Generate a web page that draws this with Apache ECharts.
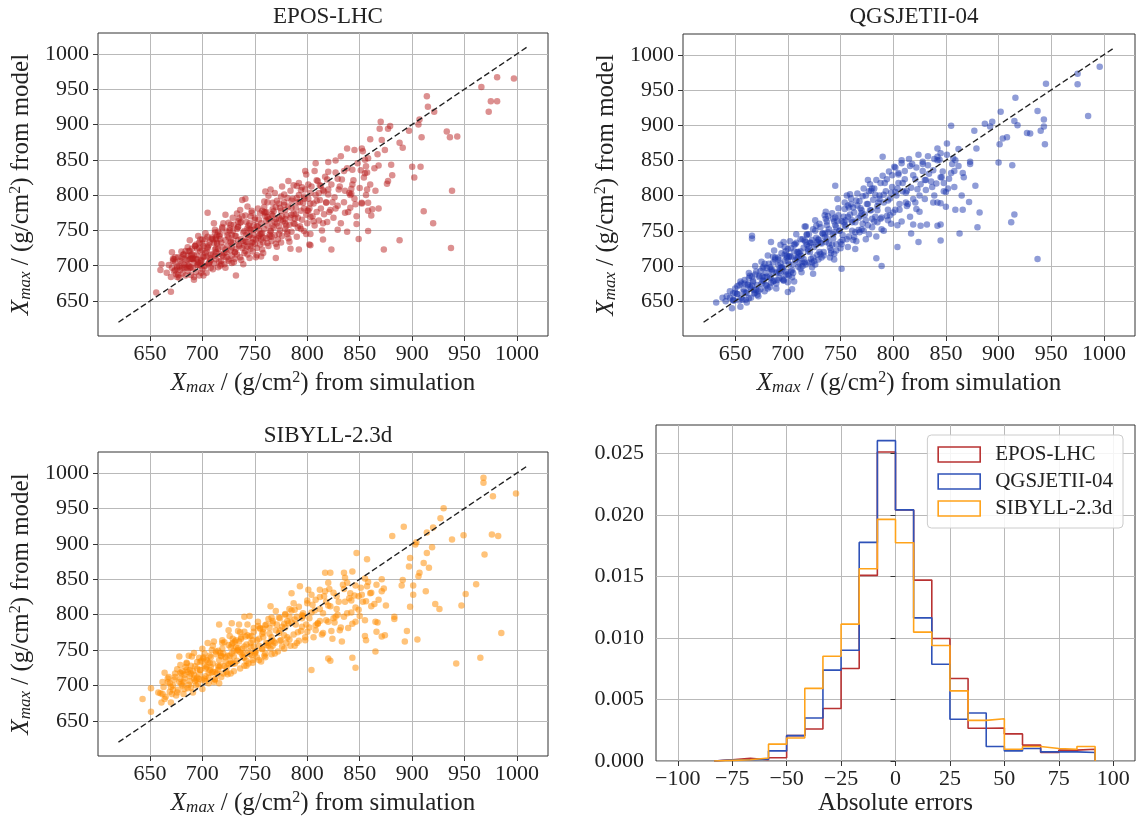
<!DOCTYPE html>
<html>
<head>
<meta charset="utf-8">
<script src="https://cdn.jsdelivr.net/npm/echarts@6/dist/echarts.min.js"></script>
<style>
html,body{margin:0;padding:0;background:#fff;}
#chart{width:1138px;height:823px;}
</style>
</head>
<body>
<div id="chart"></div>
<script>
// ---------- DATA ----------
const panelTitles = ['EPOS-LHC', 'QGSJETII-04', 'SIBYLL-2.3d'];
const scatterTicks = [650, 700, 750, 800, 850, 900, 950, 1000];
const scatterMin = 600.5, scatterMax = 1029.5;
const diagonal = [[620, 620], [1010, 1010]];

const eposPoints = [
[666,690],[668,701],[670,684],[671,697],[673,692],[674,705],[675,688],[676,699],[677,712],[678,683],[679,694],[680,703],[681,689],[682,716],[683,697],[684,686],[685,708],[686,693],[687,700],[688,721],[689,687],[690,710],[691,696],[692,704],[693,728],[694,691],[695,715],[696,701],[697,686],[698,720],[699,707],[700,695],[700,731],[701,712],[702,699],[703,718],[704,690],[705,725],[706,704],[707,711],[708,697],[709,740],[710,716],[711,703],[712,723],[713,709],[714,731],[715,698],[716,717],[717,745],[718,707],[719,726],[720,713],[721,702],[722,736],[723,719],[724,728],[725,709],[726,750],[727,722],[728,714],[729,733],[730,705],[731,742],[732,724],[733,716],[734,755],[735,730],[736,712],[737,738],[738,725],[739,747],[740,718],[741,734],[742,762],[743,727],[744,741],[745,711],[746,751],[747,733],[748,720],[749,744],[750,768],[751,737],[752,725],[753,756],[754,742],[755,730],[756,760],[757,746],[758,718],[759,752],[760,775],[761,739],[762,757],[763,728],[764,765],[765,749],[766,735],[767,771],[768,754],[769,743],[770,783],[771,760],[772,737],[773,768],[774,750],[775,778],[776,742],[777,763],[778,790],[779,752],[780,771],[781,745],[782,784],[783,758],[784,768],[785,748],[786,795],[787,774],[788,759],[789,782],[790,741],[791,768],[792,800],[793,756],[794,778],[795,765],[796,789],[797,749],[798,808],[799,772],[800,760],[801,795],[802,781],[803,745],[804,812],[805,770],[806,788],[807,757],[808,800],[809,776],[810,820],[811,764],[812,793],[813,781],[814,750],[815,807],[816,773],[817,826],[818,790],[819,762],[820,801],[822,779],[823,815],[825,768],[826,797],[827,832],[829,785],[830,808],[832,760],[833,822],[835,790],[836,775],[838,838],[840,803],[841,782],[843,815],[845,795],[847,770],[848,845],[850,810],[852,788],[854,825],[856,800],[858,852],[860,815],[862,780],
[672,710],[676,684],[679,707],[683,701],[686,714],[689,698],[692,684],[695,724],[698,700],[701,686],[704,713],[707,733],[710,695],[713,738],[716,706],[719,715],[722,697],[725,740],[728,704],[731,719],[734,736],[737,708],[740,749],[743,716],[746,728],[749,757],[752,715],[755,745],[758,733],[761,764],[764,741],[767,757],[770,731],[773,788],[776,770],[779,760],[782,739],[785,782],[788,767],[791,790],[794,752],[797,798],[800,778],[803,803],[806,763],[809,792],
[683,710],[712,714],[741,771],[695,709],[768,777],[702,700],[726,753],[688,709],[753,739],[719,755],[797,795],[676,696],[734,755],[707,705],[781,796],[691,709],[745,752],[722,723],[809,821],[698,704],[760,770],[714,743],[686,702],[738,770],[773,756],[705,727],[827,781],[693,728],[749,751],[716,742],[789,773],[680,720],[731,719],[763,766],[709,738],[745,743],[700,737],[818,789],[724,743],[691,711],[757,778],[728,726],[677,687],[774,782],[711,732],[740,729],[684,721],[803,788],[736,761],[695,701],[752,756],[719,753],[842,802],[703,738],[765,749],[729,749],[688,697],[785,792],[715,724],[747,778],
[672,707],[699,708],[733,774],[758,740],[706,729],[687,721],[770,766],[721,718],[794,807],[743,753],[681,697],[712,747],[766,741],[697,725],[739,735],[812,814],[725,761],[690,716],[754,751],[708,708],[778,801],[732,742],[674,712],[746,724],[717,738],[801,778],[694,730],[761,776],[727,733],[685,697],[835,834],[750,765],[704,720],[737,762],[780,757],[713,719],[692,715],[767,789],[723,712],[744,757],[678,699],[790,813],[710,737],[756,745],[696,705],[730,758],[821,776],[718,733],[762,769],[701,713],[742,734],[682,716],[775,765],[735,767],[689,710],[851,835],[714,732],[759,776],[698,737],[748,733],
[705,741],[733,752],[762,790],[690,724],[718,702],[746,770],[775,798],[699,690],[727,758],[756,737],[784,806],[712,751],[741,721],[769,803],[697,733],[725,707],[753,781],[781,748],[708,716],[736,779],[764,744],[792,817],[720,760],[748,739],[776,812],[703,746],[731,710],[759,791],[787,760],[715,748],[743,784],[771,727],[799,829],[694,709],[722,772],[750,731],[778,786],[706,702],[734,763],[762,732],[790,796],[717,700],[745,760],[773,745],[801,815],[729,768],[757,723],[785,772],[713,724],[741,795],[769,762],[797,781],[700,722],[728,744],[755,774],[783,734],[811,803],[739,702],[767,780],[795,811],[723,748],[751,712],[779,766],[807,834],[735,728],[763,799],[791,754],[819,822],[747,775],[775,733],[803,769],[831,812],[759,783],[787,814],[815,760],[843,836],[771,792],[799,745],[827,849],[855,831],[686,726],[692,680],[711,760],[696,742],[738,793],[760,805],[782,820],[808,845],[824,790],[839,776],[853,862],[864,838],[680,712],[674,694],[689,715],[701,728],[713,740],[727,735],[742,744],[754,765],[766,773],[779,779],[793,790],[816,805],[829,823],[844,821],[857,808],[868,842],
[981,967],[997,965],[966,953],[975,933],[981,933],[973,918],[914,940],[915,925],[921,918],[907,907],[906,900],[909,882],[933,890],[936,882],[943,883],[870,904],[869,894],[877,894],[879,898],[888,874],[891,867],[897,891],[900,840],[908,840],[902,825],[938,806],[911,777],[920,760],[888,736],[873,723],[937,725],[880,843],[881,828],[877,820],[876,816],[860,879],[871,878],[867,858],[874,864],[855,850],[856,841],[857,832],[838,866],[845,864],[852,866],[820,847],[832,855],[865,806],[868,781],[858,778],[861,771],[858,749],[849,738],[847,759],[838,748],[829,751],[823,723],[815,737],[802,730],[803,729],[792,723],[784,724],[770,711],[756,713],[765,808],[705,775],[688,736],[671,719],[673,709],[661,702],[660,694],[656,662],[670,663],[732,686],[841,800],[846,787],[852,789],[858,789],[836,806],[842,809],[813,813],[820,808],[798,834],[820,833]
];

const qgsPoints = [
[642,657],[645,664],[648,652],[650,668],[652,660],[654,673],[656,655],[658,667],[659,680],[661,662],[662,674],[664,686],[665,668],[667,679],[668,661],[670,692],[671,673],[673,684],[674,667],[676,697],[677,679],[679,690],[680,672],[682,703],[683,685],[685,695],[686,678],[688,712],[689,690],[691,701],[692,683],[694,718],[695,696],[697,707],[698,688],[700,724],[701,702],[703,713],[704,694],[706,730],[707,708],[709,720],[710,699],[712,738],[713,714],[715,726],[716,705],[718,745],[719,721],[721,733],[722,710],[724,752],[725,727],[727,740],[728,716],[730,760],[731,733],[733,746],[734,720],[736,767],[737,739],[739,752],[740,726],[742,775],[743,745],[745,758],[746,731],[748,782],[749,750],[751,764],[752,737],[754,790],[755,756],[757,770],[758,742],[760,796],[761,762],[763,776],[764,748],[766,803],[767,768],[769,782],[770,752],[772,810],[773,773],[775,788],[776,758],[778,816],[779,779],[781,794],[782,763],[784,822],[785,785],[787,800],[788,767],[790,828],[791,790],[793,806],[794,771],[796,834],[797,796],[799,812],[800,776],[802,840],[803,800],[805,818],[806,780],[808,846],[809,806],[811,823],[813,785],[815,852],[817,811],[819,829],[821,790],[824,858],[826,816],[828,835],[830,795],[833,843],[836,820],[839,800],[842,850],[845,826],[848,806],[851,858],[855,832],[858,812],[862,866],
[655,678],[660,652],[663,690],[666,672],[669,700],[672,664],[675,706],[678,684],[681,715],[684,676],[687,722],[690,692],[693,730],[696,680],[699,712],[702,735],[705,690],[708,745],[711,718],[714,700],[717,756],[720,728],[723,705],[726,765],[729,738],[732,712],[735,772],[738,748],[741,718],[744,763],[747,795],[750,725],[753,770],[756,738],[759,802],[762,783],[765,735],[768,792],[771,760],[774,800],[777,745],[780,810],[783,770],[786,790],[789,752],[792,818],[795,780],[798,760],
[652,660],[671,659],[688,709],[705,702],[723,737],[741,722],[660,662],[697,727],[714,705],[735,741],[758,783],[679,673],[693,704],[726,702],[747,764],[764,762],[683,698],[708,712],[731,717],[776,788],[645,655],[666,685],[701,686],[718,744],[752,744],[789,769],[675,675],[690,680],[712,721],[738,771],[770,775],[657,652],[699,715],[721,720],[744,717],[783,801],[686,713],[704,684],[729,737],[761,750],[802,805],[668,666],[694,698],[716,736],[749,750],[795,765],[677,699],[711,704],[733,746],[767,751],[663,654],[685,692],[707,731],[724,712],[755,765],[812,804],[648,651],[673,686],[696,679],[719,724],[743,739],[779,807],[681,668],[702,714],[737,758],[772,750],[692,692],[715,710],[746,755],[823,809],[659,675],[687,679],[709,711],[730,720],[759,773],[798,804],[670,666],[698,721],[722,733],[750,734],[785,779],[676,685],[703,692],[727,757],[754,758],[834,831],[664,670],[691,709],[713,691],[739,732],[766,786],[806,788],[684,683],[706,721],[732,732],[762,737],[654,651],[678,703],[700,707],[725,707],[745,769],[774,765],[689,675],[710,720],[736,734],[791,801],[669,662],[695,698],[717,734],[742,730],[769,771],[846,826],[680,685],[698,692],[720,705],[757,786],[780,767],[662,673],[693,690],[728,734],
[652,671],[661,648],[669,688],[678,664],[686,705],[695,681],[703,725],[712,696],[720,745],[729,709],[737,763],[746,722],[754,781],[763,741],[771,799],[780,755],[788,818],[797,772],[805,830],[814,788],[822,840],[831,808],[839,852],[848,818],[856,845],[647,640],[656,675],[665,655],[674,693],[683,670],[691,712],[700,688],[708,733],[717,702],[726,750],[734,715],[743,767],[751,731],[760,788],[768,748],[777,806],[785,762],[794,823],[802,780],[811,835],[819,795],[828,848],[837,812],[845,860],[853,824],[641,650],[650,662],[658,663],[667,677],[676,679],[684,695],[693,697],[701,713],[710,713],[718,730],[727,730],[735,746],[744,748],[753,762],[761,765],[770,779],[778,779],[787,795],[795,793],[804,810],[813,807],[821,823],[830,822],[838,836],[847,834],[655,642],[663,683],[672,657],[680,697],[689,668],[697,716],[706,678],[714,738],[723,698],[731,755],[740,712],[748,772],[757,727],[765,793],[774,738],[782,810],[791,750],[799,829],[808,763],[816,842],[825,777],[833,856],[842,790],[850,805],[859,850],[696,734],[716,756],[736,777],[756,800],[776,822],[704,667],[724,689],[744,709],[764,724],[784,742],[804,758],
[805,832],[812,790],[818,845],[825,800],[831,822],[838,790],[844,851],[852,810],[858,835],[865,800],[816,770],[828,845],[841,817],[809,818],[822,781],
[996,983],[975,973],[975,958],[945,959],[985,913],[916,939],[937,920],[943,908],[943,898],[940,892],[944,873],[927,889],[930,888],[918,900],[915,906],[902,919],[901,873],[900,847],[913,843],[904,881],[908,883],[887,902],[894,905],[892,898],[877,892],[879,867],[878,814],[882,776],[880,755],[872,791],[863,746],[915,773],[912,762],[937,710],[855,899],[851,874],[842,867],[842,855],[857,853],[862,842],[866,832],[867,826],[873,848],[873,845],[845,789],[850,784],[859,780],[866,780],[845,759],[842,757],[845,736],[832,759],[826,757],[819,759],[817,746],[824,734],[804,727],[790,855],[801,841],[808,850],[784,711],[789,700],[751,696],[745,814],[700,677],[700,663],[666,743],[666,739],[684,734],[632,648],[638,655],[648,661],[649,651]
];

const sibPoints = [
[658,690],[661,676],[663,698],[665,684],[667,705],[669,691],[670,676],[672,700],[674,712],[675,686],[677,694],[679,718],[680,702],[682,688],[683,710],[685,722],[686,696],[688,706],[689,728],[691,690],[692,715],[694,700],[695,733],[697,709],[698,722],[700,695],[701,738],[703,713],[704,726],[706,703],[707,742],[709,718],[710,731],[712,708],[713,748],[715,722],[716,736],[718,712],[719,752],[721,727],[722,740],[724,716],[725,757],[727,731],[728,745],[730,720],[731,762],[733,735],[734,750],[736,724],[737,766],[739,740],[740,755],[742,728],[743,771],[745,744],[746,760],[748,732],[749,776],[751,748],[752,764],[754,736],[755,781],[757,752],[758,768],[760,740],[761,786],[763,756],[764,773],[766,744],[767,791],[769,760],[770,778],[772,748],[773,796],[775,764],[776,783],[778,752],[779,801],[781,768],[782,788],[784,756],[785,806],[787,772],[788,793],[790,760],[792,811],[794,777],[796,798],[798,764],[800,816],[802,782],[804,803],[806,768],[808,821],[810,787],[812,808],[814,772],[816,826],[818,792],[820,813],[823,777],[825,831],[827,797],[830,818],[832,782],[835,836],[838,802],[840,823],[843,787],[846,841],[849,807],[852,828],[855,792],[858,846],[861,812],
[662,688],[684,726],[703,706],[721,761],[739,746],[758,775],[776,755],[691,720],[710,756],[729,731],[748,764],[671,688],[697,739],[715,728],[734,777],[765,752],[795,799],[679,729],[706,718],[724,742],[744,731],[783,797],[688,713],[713,744],[731,731],[753,784],[810,788],[667,710],[694,708],[718,741],[737,768],[761,757],[682,705],[700,752],[727,717],[746,755],[771,786],[826,789],[676,723],[702,710],[720,745],[742,735],[788,807],[692,710],[711,762],[733,749],[756,734],[686,719],[708,726],[728,758],[750,748],[779,782],[664,718],[696,702],[717,746],[740,776],[767,756],[805,814],[681,700],[705,734],[723,719],[745,769],[792,763],[673,708],[699,735],[716,726],[736,747],[760,785],[690,741],[714,717],[732,754],[754,756],[818,818],[678,705],[701,740],[725,730],[743,786],[773,774],[687,701],[709,750],[730,749],[752,740],[799,786],[669,703],[693,727],[712,709],[735,762],[763,794],[685,732],[707,722],[726,742],[747,743],[785,789],[695,711],[719,764],[738,743],[757,773],[835,797],[674,717],[698,722],[722,734],[741,769],[769,745],[683,695],[704,736],[729,766],[749,755],[781,791],[689,717],[712,719],[734,753],[755,780],[815,774],[660,689],[680,717],[703,724],[727,754],[748,736],[774,778],[845,827],
[668,712],[676,690],[685,731],[693,706],[702,745],[710,719],[719,760],[727,734],[736,775],[744,748],[753,790],[761,760],[770,805],[778,771],[787,816],[795,783],[804,828],[812,791],[821,836],[829,800],[838,845],[846,810],[855,851],[672,694],[681,720],[689,697],[698,733],[706,711],[715,749],[723,725],[732,764],[740,739],[749,781],[757,751],[766,796],[774,763],[783,808],[791,775],[800,820],[808,785],[817,833],[825,795],[834,842],[842,803],[851,838],[664,681],[687,742],[711,705],[735,786],[759,742],[783,765],[807,806],[831,778],[678,741],[702,728],[726,770],[750,745],[774,795],[798,768],[822,812],[846,790],[692,746],[716,703],[740,797],[764,781],[788,756],[812,825],[836,818],[860,830],[700,708],[720,717],[740,728],[760,745],[780,760],[800,776],[820,790],[705,760],[725,778],[745,798],[765,812],[785,830],[683,715],[695,724],[707,732],[718,742],[730,741],[742,758],[754,766],[766,768],[778,787],[790,797],[662,705],[670,698],[679,709],[688,722],[697,716],[708,740],[717,728],[729,760],[738,752],[747,770],[758,780],[768,762],[779,800],[789,786],[802,795],[815,802],[828,826],[841,830],[853,818],[866,842],
[812,835],[820,845],[828,808],[836,852],[842,820],[850,798],[857,840],[864,815],[871,850],[808,778],[824,766],[839,781],[855,770],
[968,993],[968,986],[999,971],[977,967],[930,950],[927,936],[938,906],[949,912],[976,913],[982,911],[969,885],[961,843],[951,829],[947,813],[985,774],[965,739],[942,731],[920,923],[914,916],[919,895],[914,887],[911,873],[904,902],[903,899],[916,866],[913,833],[922,815],[926,808],[892,924],[881,911],[898,880],[897,868],[907,859],[906,854],[901,841],[901,828],[898,811],[905,765],[893,762],[895,777],[883,794],[883,797],[875,813],[871,833],[873,837],[890,841],[891,849],[865,790],[867,789],[866,776],[871,769],[874,771],[856,764],[865,748],[846,725],[843,739],[833,762],[822,735],[820,738],[804,722],[847,887],[857,878],[822,859],[817,859],[835,859],[843,861],[793,840],[801,835],[849,826],[856,819],[861,831],[868,821],[795,795],[796,802],[763,760],[766,764],[767,788],[716,786],[728,788],[643,681],[651,663],[651,696]
];

// histogram of absolute errors (density per bin)
const histEdges = [-83.33, -75, -66.67, -58.33, -50, -41.67, -33.33, -25, -16.67, -8.33, 0, 8.33, 16.67, 25, 33.33, 41.67, 50, 58.33, 66.67, 75, 83.33, 91.67];
const histEpos = [0.0001, 0.00022, 0.0001, 0.00027, 0.00206, 0.0026, 0.00426, 0.00751, 0.01508, 0.02511, 0.0204, 0.0147, 0.00995, 0.0067, 0.00266, 0.00268, 0.0022, 0.00129, 0.00069, 0.00088, 0.00096];
const histQgs = [0.0001, 0.0001, 0.00015, 0.00082, 0.00206, 0.00349, 0.00738, 0.009, 0.01776, 0.02603, 0.0204, 0.01163, 0.00786, 0.00339, 0.0039, 0.00118, 0.00082, 0.00102, 0.00074, 0.00074, 0.00069];
const histSib = [0.00005, 0.0001, 0.00025, 0.00137, 0.00187, 0.0059, 0.00851, 0.01112, 0.01562, 0.01963, 0.01773, 0.01047, 0.00938, 0.0057, 0.0033, 0.00343, 0.00096, 0.00118, 0.00102, 0.00096, 0.00118];
const histXTicks = [-100, -75, -50, -25, 0, 25, 50, 75, 100];
const histYTicks = [0, 0.005, 0.010, 0.015, 0.020, 0.025];
const histXMin = -110, histXMax = 110, histYMax = 0.0273;

// ---------- STYLE ----------
const FONT = '"Liberation Serif", "DejaVu Serif", serif';
const colScatter = ['rgba(185,30,30,0.62)', 'rgba(28,55,175,0.62)', 'rgba(255,140,0,0.65)'];
const colHist = ['#b83232', '#2f52b8', '#ffa31a'];
const gridColor = '#b9b9b9';
const frameColor = '#333';
const TICK_FS = 22, NAME_FS = 25;

const grids = [
  {left: 98, top: 33, width: 450, height: 303},
  {left: 683, top: 34, width: 452, height: 302},
  {left: 98, top: 452, width: 450, height: 304},
  {left: 656, top: 425, width: 479, height: 336}
].map(g => Object.assign({show: true, borderColor: frameColor, borderWidth: 1, backgroundColor: 'transparent', containLabel: false}, g));

const richLabel = {
  i: {fontFamily: FONT, fontStyle: 'italic', fontSize: NAME_FS, color: '#222'},
  sub: {fontFamily: FONT, fontStyle: 'italic', fontSize: 17, color: '#222', verticalAlign: 'bottom', padding: [9, 0, 0, 0]},
  t: {fontFamily: FONT, fontSize: NAME_FS, color: '#222'},
  sup: {fontFamily: FONT, fontSize: 16, color: '#222', verticalAlign: 'top', padding: [0, 0, 10, 0]}
};

function scatterX(idx, gap) {
  return {
    type: 'value', gridIndex: idx, min: scatterMin, max: scatterMax,
    name: '{i|X}{sub|max}{t| / (g/cm}{sup|2}{t|) from simulation}',
    nameLocation: 'middle', nameGap: gap,
    nameTextStyle: {rich: richLabel},
    axisLine: {show: false},
    axisTick: {show: true, length: 5, customValues: scatterTicks, lineStyle: {color: frameColor}},
    axisLabel: {customValues: scatterTicks, fontFamily: FONT, fontSize: TICK_FS, color: '#222', margin: 7, formatter: v => String(v)},
    splitLine: {show: true, lineStyle: {color: gridColor, width: 1}}
  };
}
function scatterY(idx) {
  return {
    type: 'value', gridIndex: idx, min: scatterMin, max: scatterMax,
    name: '{i|X}{sub|max}{t| / (g/cm}{sup|2}{t|) from model}',
    nameLocation: 'middle', nameGap: 64, nameRotate: 90,
    nameTextStyle: {rich: richLabel},
    axisLine: {show: false},
    axisTick: {show: true, length: 5, customValues: scatterTicks, lineStyle: {color: frameColor}},
    axisLabel: {customValues: scatterTicks, fontFamily: FONT, fontSize: TICK_FS, color: '#222', margin: 9, formatter: v => String(v)},
    splitLine: {show: true, lineStyle: {color: gridColor, width: 1}}
  };
}

const xAxes = [scatterX(0, 34), scatterX(1, 34), scatterX(2, 34), {
  type: 'value', gridIndex: 3, min: histXMin, max: histXMax,
  name: 'Absolute errors', nameLocation: 'middle', nameGap: 30,
  nameTextStyle: {fontFamily: FONT, fontSize: NAME_FS, color: '#222'},
  axisLine: {show: false},
  axisTick: {show: true, length: 5, customValues: histXTicks, lineStyle: {color: frameColor}},
  axisLabel: {customValues: histXTicks, fontFamily: FONT, fontSize: TICK_FS, color: '#222', margin: 7,
    formatter: v => (v < 0 ? '\u2212' + Math.abs(v) : String(v))},
  splitLine: {show: true, lineStyle: {color: gridColor, width: 1}}
}];
const yAxes = [scatterY(0), scatterY(1), scatterY(2), {
  type: 'value', gridIndex: 3, min: 0, max: histYMax,
  axisLine: {show: false},
  axisTick: {show: true, length: 5, customValues: histYTicks, lineStyle: {color: frameColor}},
  axisLabel: {customValues: histYTicks, fontFamily: FONT, fontSize: TICK_FS, color: '#222', margin: 12,
    formatter: v => v.toFixed(3)},
  splitLine: {show: true, lineStyle: {color: gridColor, width: 1}}
}];

function stepData(edges, heights) {
  const d = [[edges[0], 0]];
  for (let i = 0; i < heights.length; i++) d.push([edges[i], heights[i]]);
  d.push([edges[edges.length - 1], 0]);
  return d;
}

const series = [];
[eposPoints, qgsPoints, sibPoints].forEach((pts, i) => {
  series.push({
    type: 'scatter', xAxisIndex: i, yAxisIndex: i, data: pts, symbolSize: 6.5,
    itemStyle: {color: colScatter[i]}, silent: true, z: 2, large: false
  });
  series.push({
    type: 'line', xAxisIndex: i, yAxisIndex: i, data: diagonal, showSymbol: false, silent: true, z: 3,
    lineStyle: {color: '#222', width: 1.4, type: [6, 3]}
  });
});
[['EPOS-LHC', histEpos], ['QGSJETII-04', histQgs], ['SIBYLL-2.3d', histSib]].forEach(([name, h], i) => {
  series.push({
    name: name, type: 'line', xAxisIndex: 3, yAxisIndex: 3, step: 'end', data: stepData(histEdges, h),
    showSymbol: false, silent: true, z: 3 + i,
    lineStyle: {color: colHist[i], width: 1.6}, itemStyle: {color: colHist[i]}
  });
});

const titleCenters = [[323, 0], [909, 0], [323, 419]];
const titles = panelTitles.map((t, i) => ({
  text: t, left: titleCenters[i][0], top: titleCenters[i][1], textAlign: 'center',
  textStyle: {fontFamily: FONT, fontSize: 23, fontWeight: 'normal', color: '#222'}
}));

const chart = echarts.init(document.getElementById('chart'), null, {renderer: 'canvas'});
chart.setOption({
  animation: false,
  backgroundColor: '#fff',
  title: titles,
  grid: grids,
  xAxis: xAxes,
  yAxis: yAxes,
  legend: {
    orient: 'vertical', right: 15, top: 435, icon: 'rect',
    itemWidth: 42, itemHeight: 15, itemGap: 6,
    padding: [9, 10, 9, 10],
    backgroundColor: 'rgba(255,255,255,0.85)', borderColor: '#cccccc', borderWidth: 1, borderRadius: 4,
    textStyle: {fontFamily: FONT, fontSize: 21, color: '#222', padding: [0, 0, 0, 10]},
    data: panelTitles.map((n, i) => ({name: n, itemStyle: {color: 'transparent', borderColor: colHist[i], borderWidth: 1.6}}))
  },
  series: series
});
</script>
</body>
</html>
